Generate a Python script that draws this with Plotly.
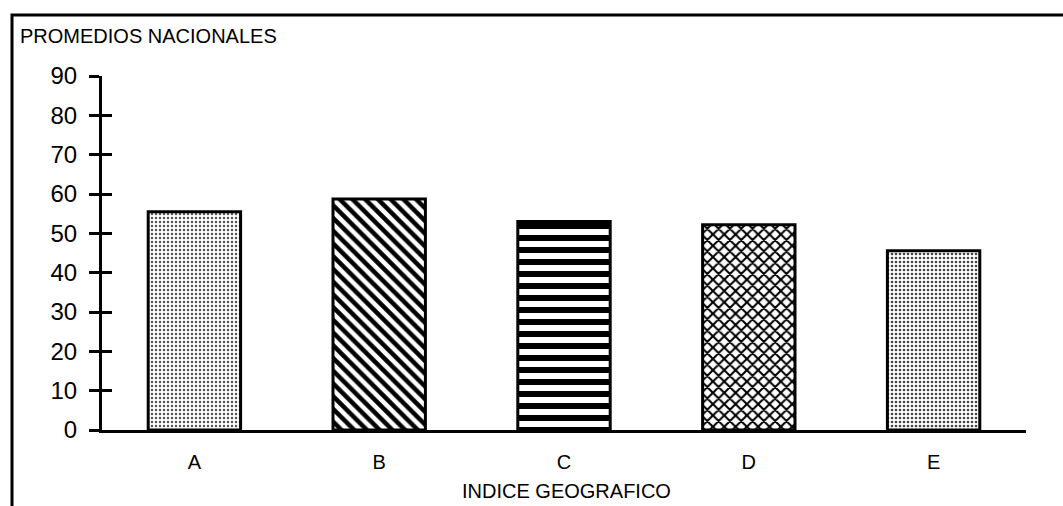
import plotly.graph_objects as go

categories = ["A", "B", "C", "D", "E"]
values = [55.5, 58.7, 53.0, 52.2, 45.6]
y_ticks = [0, 10, 20, 30, 40, 50, 60, 70, 80, 90]
title_text = "PROMEDIOS NACIONALES"
x_title = "INDICE GEOGRAFICO"

shapes_pattern = [".", "\\", "-", "x", "."]
pattern_size = [4, 9, 12, 8, 4]
pattern_solid = [0.3, 0.5, 0.5, 0.45, 0.35]
pattern_fg = ["#555555", "#000000", "#000000", "#000000", "#444444"]

FONT = "Liberation Sans, Arial, Helvetica, sans-serif"
W, H = 1063, 506
L, R, T, B = 102, 37, 76, 76
pw, ph = W - L - R, H - T - B

def px_x(p):
    return (p - L) / pw

def px_y(p):
    return (H - B - p) / ph

fig = go.Figure()
fig.add_trace(go.Bar(
    x=categories, y=values, width=0.5,
    marker=dict(
        color="white",
        line=dict(color="black", width=3),
        pattern=dict(shape=shapes_pattern, size=pattern_size,
                     solidity=pattern_solid, fgcolor=pattern_fg,
                     bgcolor="white", fgopacity=1, fillmode="replace"),
    ),
    showlegend=False, hoverinfo="x+y",
))
# invisible helper trace so the inside-tick overlay axis is drawn
fig.add_trace(go.Scatter(x=categories, y=values, yaxis="y2", mode="markers",
                         marker=dict(opacity=0), showlegend=False,
                         hoverinfo="skip"))

fig.update_layout(
    width=W, height=H,
    margin=dict(l=L, r=R, t=T, b=B),
    paper_bgcolor="white", plot_bgcolor="white",
    font=dict(family=FONT, color="black"),
    title=dict(text=title_text, x=20 / W, xanchor="left",
               y=1 - 36 / H, yanchor="middle",
               font=dict(size=20, family=FONT, color="black")),
    xaxis=dict(
        range=[-0.5, 4.5], showgrid=False, zeroline=False,
        showline=True, linecolor="black", linewidth=3,
        ticks="", tickfont=dict(size=20, family=FONT),
        ticklabelstandoff=12,
    ),
    yaxis=dict(
        range=[0, 90], tickvals=y_ticks, showgrid=False, zeroline=False,
        showline=True, linecolor="black", linewidth=3,
        ticks="outside", ticklen=10, tickwidth=3, tickcolor="black",
        tickfont=dict(size=24, family=FONT), ticklabelstandoff=7,
    ),
    yaxis2=dict(
        range=[0, 90], tickvals=y_ticks, overlaying="y", side="left",
        anchor="x", showgrid=False, zeroline=False, showline=False,
        ticks="inside", ticklen=10, tickwidth=3, tickcolor="black",
        showticklabels=False,
    ),
    annotations=[dict(
        text=x_title, xref="paper", yref="paper",
        x=px_x(566), y=px_y(491), xanchor="center", yanchor="middle",
        showarrow=False, font=dict(size=20, family=FONT, color="black"),
    )],
    shapes=[dict(
        type="path", xref="paper", yref="paper",
        path=(f"M {px_x(12)} {px_y(520)} L {px_x(12)} {px_y(15)} "
              f"L {px_x(1075)} {px_y(15)}"),
        line=dict(color="black", width=3),
    )],
)

fig.write_html("out.html", config={"displayModeBar": False},
               post_script="document.body.style.margin='0';"
                           "document.body.style.overflow='hidden';")
